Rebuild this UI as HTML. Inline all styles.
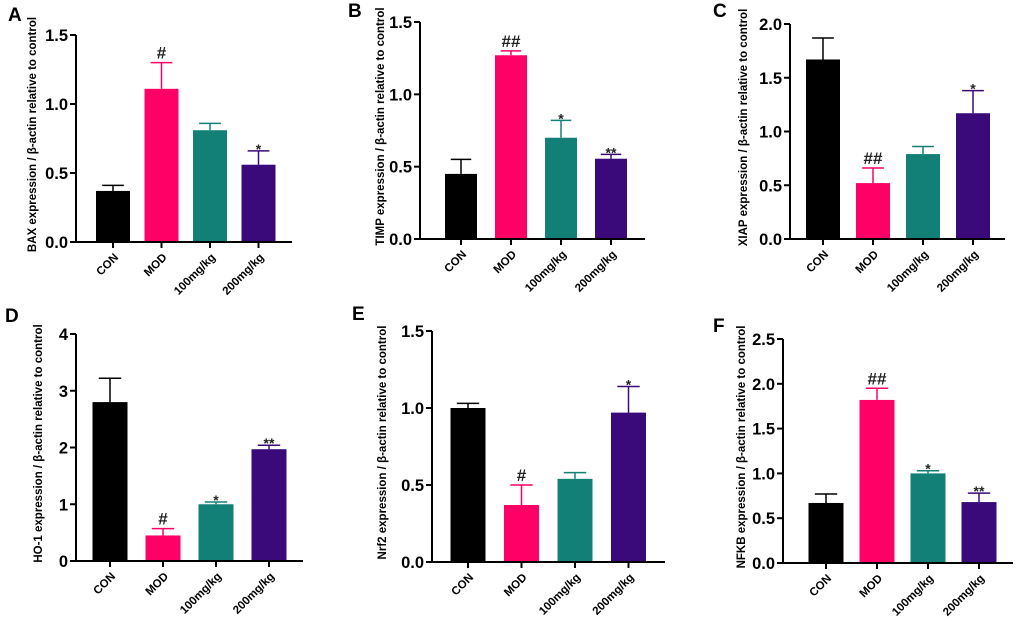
<!DOCTYPE html>
<html><head><meta charset="utf-8"><style>
body{margin:0;background:#fff;width:1020px;height:631px;overflow:hidden}
svg{display:block;font-family:"Liberation Sans",Arial,sans-serif}
</style></head><body>
<svg id="fig" width="1020" height="631" viewBox="0 0 1020 631"></svg>
<script>
const categories=["CON","MOD","100mg/kg","200mg/kg"];
const colors=["#000000","#ff0066","#138078","#3b0a7a"];
const panelLetters=["A","B","C","D","E","F"];
const panelTitles=["BAX expression / β-actin relative to control","TIMP expression / β-actin relative to control","XIAP expression / β-actin relative to control","HO-1 expression / β-actin relative to control","Nrf2 expression / β-actin relative to control","NFKB expression / β-actin relative to control"];
const meansA=[0.37,1.11,0.81,0.56], errA=[0.04,0.19,0.05,0.10], sigA=["","#","","*"];
const meansB=[0.45,1.27,0.70,0.555], errB=[0.10,0.03,0.12,0.03], sigB=["","##","*","**"];
const meansC=[1.67,0.52,0.79,1.17], errC=[0.20,0.14,0.07,0.21], sigC=["","##","","*"];
const meansD=[2.8,0.45,1.0,1.97], errD=[0.42,0.12,0.04,0.07], sigD=["","#","*","**"];
const meansE=[1.0,0.37,0.54,0.97], errE=[0.03,0.13,0.04,0.17], sigE=["","#","","*"];
const meansF=[0.67,1.82,1.0,0.68], errF=[0.10,0.13,0.03,0.10], sigF=["","##","*","**"];
const ticksA=[0,0.5,1.0,1.5], ticksB=[0,0.5,1.0,1.5], ticksC=[0,0.5,1.0,1.5,2.0], ticksD=[0,1,2,3,4], ticksE=[0,0.5,1.0,1.5], ticksF=[0,0.5,1.0,1.5,2.0,2.5];
const tickDec=[1,1,1,0,1,1];
const means=[meansA,meansB,meansC,meansD,meansE,meansF];
const errs=[errA,errB,errC,errD,errE,errF];
const sigs=[sigA,sigB,sigC,sigD,sigE,sigF];
const ticks=[ticksA,ticksB,ticksC,ticksD,ticksE,ticksF];
// layout: axisX, endX, topY, bottomY, firstTickOffset, spacing, barWidth, titleOffset, letterX, letterY
const layout=[[76,292,35,242,37,48.5,34,-44,8,21],[420,645,22,239,41,50,32,-40,348,17],[790,1005,24,239,33,50,34,-47,713,17],[76,303,334,561,34,53,35,-38,5,322],[432,665,331,562,36,53.5,35,-50,352,320],[783,1013,339,563,43,51,35,-42,713,332]];
const svg=document.getElementById('fig');
const NS="http://www.w3.org/2000/svg";
function mk(tag,attrs,parent){const e=document.createElementNS(NS,tag);for(const k in attrs)e.setAttribute(k,attrs[k]);(parent||svg).appendChild(e);return e;}
for(let p=0;p<6;p++){
  const [ax,ex,ty,by,f0,sp,bw,toff,lx,ly]=layout[p];
  const tk=ticks[p], ymax=tk[tk.length-1];
  const y=v=>by-(v/ymax)*(by-ty);
  const x=i=>ax+f0+sp*i;
  const g=mk('g',{});
  
  
  const L=mk('text',{x:lx,y:ly,'font-size':19,'font-weight':'bold'},g);L.textContent=panelLetters[p];
  
  const t=mk('text',{transform:`translate(${ax+toff+4},${(ty+by)/2-4}) rotate(-90)`,'text-anchor':'middle','font-size':11.5,'font-weight':'bold'},g);t.textContent=panelTitles[p];
  
  for(let i=0;i<4;i++){
    const v=means[p][i], e=errs[p][i];
    const bx=x(i)-bw/2;
    const r=mk('rect',{x:bx,y:y(v),width:bw,height:by-y(v),fill:colors[i]},g);
    
    const ln=mk('path',{d:`M${x(i)} ${y(v)}V${y(v+e)}M${x(i)-bw*0.32} ${y(v+e)}H${x(i)+bw*0.32}`,stroke:colors[i],'stroke-width':1.5,fill:'none'},g);
    
    if(sigs[p][i]){const isH=sigs[p][i].includes('#');const s=mk('text',{x:x(i),y:y(v+e)-(isH?4:-3),'text-anchor':'middle','font-size':isH?17:14,'font-weight':'bold',fill:'#222'},g);s.textContent=sigs[p][i];
      }
    const tm=mk('line',{x1:x(i),x2:x(i),y1:by,y2:by+6,stroke:'#000','stroke-width':2},g);
    
    const lb=mk('text',{transform:`translate(${x(i)+6},${by+16}) rotate(-45)`,'text-anchor':'end','font-size':11.5,'font-weight':'bold'},g);lb.textContent=categories[i];
    
  }
  const axl=mk('path',{d:`M${ax} ${ty}V${by}H${ex}`,stroke:'#000','stroke-width':2,fill:'none'},g);
  
  tk.forEach(v=>{
    const tl=mk('line',{x1:ax-6,x2:ax,y1:y(v),y2:y(v),stroke:'#000','stroke-width':2},g);
    
    const tt=mk('text',{x:ax-8,y:y(v)+6,'text-anchor':'end','font-size':16.5,'font-weight':'bold'},g);tt.textContent=v.toFixed(tickDec[p]);
    
  });
}
</script>
</body></html>
